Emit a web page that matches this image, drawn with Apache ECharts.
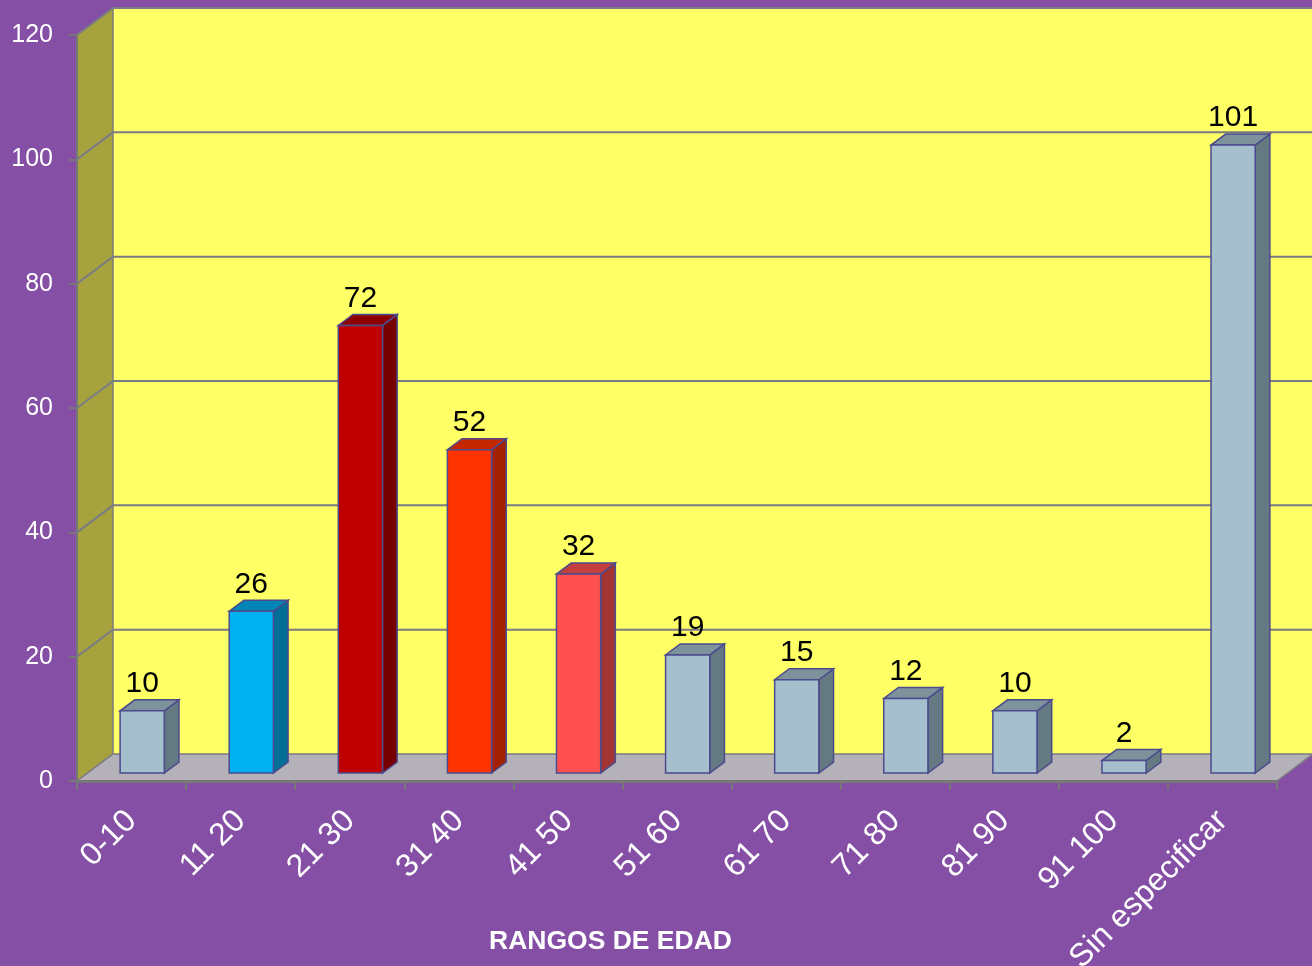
<!DOCTYPE html>
<html>
<head>
<meta charset="utf-8">
<script src="https://cdn.jsdelivr.net/npm/echarts@6/dist/echarts.min.js"></script>
<style>
html,body{margin:0;padding:0;background:#854fa6;}
#chart{width:1312px;height:966px;}
</style>
</head>
<body>
<div id="chart"></div>
<script>
// ---- data ----
const categories = ["0-10","11 20","21 30","31 40","41 50","51 60","61 70","71 80","81 90","91 100","Sin especificar"];
const values = [10, 26, 72, 52, 32, 19, 15, 12, 10, 2, 101];
const yTicks = [0, 20, 40, 60, 80, 100, 120];
const xAxisTitle = "RANGOS DE EDAD";

// ---- styles ----
const palette = {
  grey:   {front:'#a5bfcd', side:'#657983', top:'#7e929c'},
  blue:   {front:'#00b0f0', side:'#006f98', top:'#0086b6'},
  dred:   {front:'#c00000', side:'#760000', top:'#8e0000'},
  orange: {front:'#ff3300', side:'#a32000', top:'#c52800'},
  salmon: {front:'#ff5050', side:'#a33434', top:'#c63f3f'}
};
const barStyleKeys = ['grey','blue','dred','orange','salmon','grey','grey','grey','grey','grey','grey'];
const DEPTH = [36, -27];
const F1 = 8/27, F2 = 19/27;
const GRIDC = '#7b7b83';
const FONT = '"Liberation Sans", Arial, sans-serif';

const chart = echarts.init(document.getElementById('chart'));

function wallsRender(params, api) {
  const bw = api.size([1, 0])[0];
  const n = categories.length;
  const x0 = api.coord([0, 0])[0] - bw / 2;
  const x1 = api.coord([n - 1, 0])[0] + bw / 2;
  const y0 = api.coord([0, yTicks[0]])[1];
  const yT = api.coord([0, yTicks[yTicks.length - 1]])[1];
  const dx = DEPTH[0], dy = DEPTH[1];
  const children = [];
  children.push({type:'polygon', shape:{points:[[x0+dx,yT+dy],[x1+dx,yT+dy],[x1+dx,y0+dy],[x0+dx,y0+dy]]}, style:{fill:'#ffff66'}});
  children.push({type:'polygon', shape:{points:[[x0,y0],[x0+dx,y0+dy],[x0+dx,yT+dy],[x0,yT]]}, style:{fill:'#a6a33f', stroke:GRIDC, lineWidth:1.5}});
  children.push({type:'polygon', shape:{points:[[x0,y0],[x1,y0],[x1+dx,y0+dy],[x0+dx,y0+dy]]}, style:{fill:'#b4b1b8', stroke:GRIDC, lineWidth:1.5}});
  yTicks.forEach(function (t) {
    if (t === 0) return;
    const y = api.coord([0, t])[1];
    children.push({type:'polyline', shape:{points:[[x0,y],[x0+dx,y+dy],[x1+dx,y+dy]]}, style:{stroke:GRIDC, lineWidth:2, fill:null}});
  });
  return {type:'group', children: children};
}

function barRender(params, api) {
  const i = api.value(0);
  const v = api.value(1);
  const bw = api.size([1, 0])[0];
  const w = bw * 0.405;
  const dx = DEPTH[0], dy = DEPTH[1];
  const c = api.coord([i, 0]);
  const ct = api.coord([i, v]);
  const cx = c[0] + dx * F1;
  const base = c[1] + dy * F1;
  const top = ct[1] + dy * F1;
  const sdx = dx * (F2 - F1), sdy = dy * (F2 - F1);
  const xl = cx - w / 2, xr = cx + w / 2;
  const pal = palette[barStyleKeys[params.dataIndex]];
  const border = '#4b4b8e';
  return {
    type:'group',
    children:[
      {type:'polygon', shape:{points:[[xr,base],[xr,top],[xr+sdx,top+sdy],[xr+sdx,base+sdy]]}, style:{fill:pal.side, stroke:border, lineWidth:1.5}},
      {type:'polygon', shape:{points:[[xl,top],[xr,top],[xr+sdx,top+sdy],[xl+sdx,top+sdy]]}, style:{fill:pal.top, stroke:border, lineWidth:1.5}},
      {type:'rect', shape:{x:xl, y:top, width:w, height:base-top}, style:{fill:pal.front, stroke:border, lineWidth:1.5}},
      {type:'text', style:{x:cx, y:top + sdy - 1, text:String(v), fill:'#000', font:'30px ' + FONT, textAlign:'center', textVerticalAlign:'bottom'}}
    ]
  };
}

const option = {
  backgroundColor: '#854fa6',
  animation: false,
  grid: {left: 77, right: 35, top: 35, bottom: 185, containLabel: false, outerBoundsMode: 'none'},
  xAxis: {
    type: 'category',
    data: categories,
    boundaryGap: true,
    axisLine: {show: true, lineStyle: {color: '#777', width: 3}},
    axisTick: {show: true, length: 9, lineStyle: {color: '#777', width: 2}},
    axisLabel: {interval: 0, rotate: 45, color: '#fff', fontSize: 32, fontFamily: FONT, margin: 35},
    splitLine: {show: false}
  },
  yAxis: {
    type: 'value',
    min: yTicks[0], max: yTicks[yTicks.length - 1], interval: yTicks[1] - yTicks[0],
    axisLine: {show: true, lineStyle: {color: '#777', width: 2}},
    axisTick: {show: true, length: 8, lineStyle: {color: '#777', width: 2}},
    axisLabel: {color: '#fff', fontSize: 25, fontFamily: FONT, margin: 24},
    splitLine: {show: false}
  },
  graphic: [{
    type: 'text', left: 489, top: 928,
    style: {text: xAxisTitle, fill: '#fff', font: 'bold 26.5px ' + FONT}
  }],
  series: [
    {type: 'custom', name: 'walls', renderItem: wallsRender, data: [[0, 0]], clip: false, z: 0, silent: true},
    {type: 'custom', name: 'bars', renderItem: barRender, data: values.map(function (v, i) { return [i, v]; }), clip: false, z: 5}
  ]
};
chart.setOption(option);
</script>
</body>
</html>
